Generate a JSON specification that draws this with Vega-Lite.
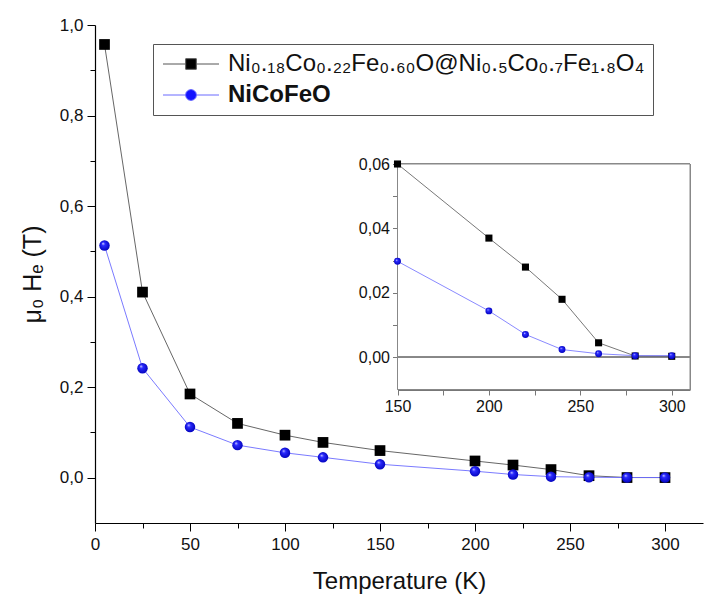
{
  "$schema": "https://vega.github.io/schema/vega-lite/v6.json",
  "width": 608,
  "height": 498,
  "autosize": {"type": "none"},
  "padding": {"left": 95, "top": 25, "right": 5, "bottom": 80},
  "background": "white",
  "config": {
    "view": {"stroke": null},
    "font": "Liberation Sans",
    "axis": {"grid": false, "labelFont": "Liberation Sans", "titleFont": "Liberation Sans", "labelColor": "#111", "titleColor": "#111", "titleFontWeight": "normal"}
  },
  "data": {
    "values": [
      {"T": 5, "H": 0.957, "s": "Ni₀.₁₈Co₀.₂₂Fe₀.₆₀O@Ni₀.₅Co₀.₇Fe₁.₈O₄"},
      {"T": 25, "H": 0.41, "s": "Ni₀.₁₈Co₀.₂₂Fe₀.₆₀O@Ni₀.₅Co₀.₇Fe₁.₈O₄"},
      {"T": 50, "H": 0.185, "s": "Ni₀.₁₈Co₀.₂₂Fe₀.₆₀O@Ni₀.₅Co₀.₇Fe₁.₈O₄"},
      {"T": 75, "H": 0.12, "s": "Ni₀.₁₈Co₀.₂₂Fe₀.₆₀O@Ni₀.₅Co₀.₇Fe₁.₈O₄"},
      {"T": 100, "H": 0.094, "s": "Ni₀.₁₈Co₀.₂₂Fe₀.₆₀O@Ni₀.₅Co₀.₇Fe₁.₈O₄"},
      {"T": 120, "H": 0.078, "s": "Ni₀.₁₈Co₀.₂₂Fe₀.₆₀O@Ni₀.₅Co₀.₇Fe₁.₈O₄"},
      {"T": 150, "H": 0.06, "s": "Ni₀.₁₈Co₀.₂₂Fe₀.₆₀O@Ni₀.₅Co₀.₇Fe₁.₈O₄"},
      {"T": 200, "H": 0.037, "s": "Ni₀.₁₈Co₀.₂₂Fe₀.₆₀O@Ni₀.₅Co₀.₇Fe₁.₈O₄"},
      {"T": 220, "H": 0.028, "s": "Ni₀.₁₈Co₀.₂₂Fe₀.₆₀O@Ni₀.₅Co₀.₇Fe₁.₈O₄"},
      {"T": 240, "H": 0.018, "s": "Ni₀.₁₈Co₀.₂₂Fe₀.₆₀O@Ni₀.₅Co₀.₇Fe₁.₈O₄"},
      {"T": 260, "H": 0.0045, "s": "Ni₀.₁₈Co₀.₂₂Fe₀.₆₀O@Ni₀.₅Co₀.₇Fe₁.₈O₄"},
      {"T": 280, "H": 0.0004, "s": "Ni₀.₁₈Co₀.₂₂Fe₀.₆₀O@Ni₀.₅Co₀.₇Fe₁.₈O₄"},
      {"T": 300, "H": 0.0003, "s": "Ni₀.₁₈Co₀.₂₂Fe₀.₆₀O@Ni₀.₅Co₀.₇Fe₁.₈O₄"},
      {"T": 5, "H": 0.513, "s": "NiCoFeO"},
      {"T": 25, "H": 0.242, "s": "NiCoFeO"},
      {"T": 50, "H": 0.112, "s": "NiCoFeO"},
      {"T": 75, "H": 0.072, "s": "NiCoFeO"},
      {"T": 100, "H": 0.055, "s": "NiCoFeO"},
      {"T": 120, "H": 0.045, "s": "NiCoFeO"},
      {"T": 150, "H": 0.0298, "s": "NiCoFeO"},
      {"T": 200, "H": 0.0144, "s": "NiCoFeO"},
      {"T": 220, "H": 0.0071, "s": "NiCoFeO"},
      {"T": 240, "H": 0.0024, "s": "NiCoFeO"},
      {"T": 260, "H": 0.0011, "s": "NiCoFeO"},
      {"T": 280, "H": 0.0005, "s": "NiCoFeO"},
      {"T": 300, "H": 0.0005, "s": "NiCoFeO"}
    ]
  },
  "layer": [
    {
      "encoding": {
        "x": {
          "field": "T", "type": "quantitative",
          "scale": {"domain": [0, 320], "nice": false, "zero": false},
          "axis": {
            "orient": "bottom",
            "title": "Temperature (K)",
            "values": [0, 25, 50, 75, 100, 125, 150, 175, 200, 225, 250, 275, 300],
            "labelExpr": "datum.value % 50 === 0 ? datum.label : ''",
            "format": "d",
            "domainColor": "#000", "domainWidth": 1.2,
            "tickColor": "#000", "tickWidth": 1,
            "tickSize": {"condition": {"test": "datum.value % 50 === 0", "value": 8}, "value": 5},
            "labelFontSize": 17, "labelPadding": 5, "labelFlush": false,
            "titleFontSize": 24, "titlePadding": 17
          }
        },
        "y": {
          "field": "H", "type": "quantitative",
          "scale": {"domain": [-0.1, 1.0], "nice": false, "zero": false},
          "axis": {
            "orient": "left",
            "title": "μ₀ Hₑ (T)",
            "values": [0, 0.1, 0.2, 0.3, 0.4, 0.5, 0.6, 0.7, 0.8, 0.9, 1.0],
            "labelExpr": "round(datum.value * 10) % 2 === 0 ? replace(format(datum.value, '.1f'), '.', ',') : ''",
            "domainColor": "#000", "domainWidth": 1.2,
            "tickColor": "#000", "tickWidth": 1,
            "tickSize": {"condition": {"test": "round(datum.value * 10) % 2 === 0", "value": 8}, "value": 5},
            "labelFontSize": 17, "labelPadding": 4, "labelFlush": false,
            "titleFontSize": 25, "titlePadding": 14
          }
        }
      },
      "layer": [
        {
          "mark": {"type": "line", "strokeWidth": 0.9},
          "encoding": {
            "color": {
              "field": "s", "type": "nominal",
              "scale": {"domain": ["Ni₀.₁₈Co₀.₂₂Fe₀.₆₀O@Ni₀.₅Co₀.₇Fe₁.₈O₄", "NiCoFeO"], "range": ["#555555", "#6b6bff"]},
              "legend": {
                "title": null,
                "orient": "none",
                "legendX": 58,
                "legendY": 19,
                "direction": "vertical",
                "padding": 8,
                "strokeColor": "#555",
                "fillColor": "white",
                "labelFont": "Liberation Sans",
                "labelFontSize": 24,
                "labelColor": "#111",
                "labelLimit": 600,
                "labelOffset": 25,
                "rowPadding": 7,
                "symbolSize": 400,
                "symbolOffset": 18,
                "symbolStrokeWidth": 1,
                "encode": {
                  "symbols": {
                    "update": {
                      "shape": {"signal": "datum.value === 'NiCoFeO' ? 'M-2.8,0H-0.55M0.55,0H2.8M0.55,0L0.476,0.275L0.275,0.476L0,0.55L-0.275,0.476L-0.476,0.275L-0.55,0L-0.476,-0.275L-0.275,-0.476L0,-0.55L0.275,-0.476L0.476,-0.275Z' : 'M-2.8,0H-0.53M0.53,0H2.8M-0.53,-0.53H0.53V0.53H-0.53Z'"},
                      "fill": {"signal": "datum.value === 'NiCoFeO' ? '#1414ff' : '#000000'"},
                      "stroke": {"signal": "datum.value === 'NiCoFeO' ? '#8a8aff' : '#444444'"},
                      "strokeWidth": {"value": 1},
                      "opacity": {"value": 1}
                    }
                  },
                  "labels": {
                    "update": {
                      "fontWeight": {"signal": "datum.value === 'NiCoFeO' ? 'bold' : 'normal'"}
                    }
                  }
                }
              }
            }
          }
        },
        {
          "transform": [{"filter": "datum.s !== 'NiCoFeO'"}],
          "mark": {"type": "point", "shape": "square", "filled": true, "size": 115, "color": "#000", "opacity": 1}
        },
        {
          "transform": [{"filter": "datum.s === 'NiCoFeO'"}],
          "mark": {
            "type": "point", "shape": "circle", "filled": true, "size": 110, "opacity": 1,
            "fill": {"gradient": "radial", "x1": 0.35, "y1": 0.3, "r1": 0, "x2": 0.5, "y2": 0.5, "r2": 0.55,
              "stops": [{"offset": 0, "color": "#dcdcff"}, {"offset": 0.3, "color": "#2a2aff"}, {"offset": 1, "color": "#0000b8"}]}
          }
        }
      ]
    },
    {
      "transform": [{"filter": "datum.T >= 150"}],
      "encoding": {
        "x": {
          "field": "T", "type": "quantitative",
          "scale": {"domain": [150, 310], "range": [302.5, 595], "nice": false, "zero": false},
          "axis": {
            "orient": "bottom",
            "offset": -133,
            "title": null,
            "values": [150, 175, 200, 225, 250, 275, 300],
            "labelExpr": "datum.value % 50 === 0 ? datum.label : ''",
            "format": "d",
            "domainColor": "#777", "domainWidth": 1,
            "tickColor": "#777", "tickWidth": 1,
            "tickSize": 5,
            "labelFontSize": 16, "labelPadding": 3, "labelFlush": false
          }
        },
        "y": {
          "field": "H", "type": "quantitative",
          "scale": {"domain": [-0.01, 0.06], "range": [364.5, 139], "nice": false, "zero": false},
          "axis": {
            "orient": "left",
            "offset": -302.5,
            "title": null,
            "values": [0, 0.01, 0.02, 0.03, 0.04, 0.05, 0.06],
            "labelExpr": "round(datum.value * 100) % 2 === 0 ? replace(format(datum.value, '.2f'), '.', ',') : ''",
            "domainColor": "#777", "domainWidth": 1,
            "tickColor": "#777", "tickWidth": 1,
            "tickSize": 5,
            "labelFontSize": 16, "labelPadding": 3, "labelFlush": false
          }
        }
      },
      "layer": [
        {
          "mark": {"type": "rect", "fill": "white", "stroke": "#888", "strokeWidth": 1},
          "encoding": {
            "x": {"datum": 150, "type": "quantitative"},
            "x2": {"datum": 310},
            "y": {"datum": -0.01, "type": "quantitative"},
            "y2": {"datum": 0.06}
          }
        },
        {
          "mark": {"type": "rule", "color": "#888", "strokeWidth": 1},
          "encoding": {
            "x": {"datum": 150, "type": "quantitative"},
            "x2": {"datum": 310},
            "y": {"datum": 0, "type": "quantitative"}
          }
        },
        {
          "mark": {"type": "line", "strokeWidth": 0.8},
          "encoding": {
            "detail": {"field": "s", "type": "nominal"},
            "color": {
              "field": "s", "type": "nominal",
              "scale": {"domain": ["Ni₀.₁₈Co₀.₂₂Fe₀.₆₀O@Ni₀.₅Co₀.₇Fe₁.₈O₄", "NiCoFeO"], "range": ["#555555", "#6b6bff"]},
              "legend": null
            }
          }
        },
        {
          "transform": [{"filter": "datum.s !== 'NiCoFeO'"}],
          "mark": {"type": "point", "shape": "square", "filled": true, "size": 50, "color": "#000", "opacity": 1}
        },
        {
          "transform": [{"filter": "datum.s === 'NiCoFeO'"}],
          "mark": {
            "type": "point", "shape": "circle", "filled": true, "size": 48, "opacity": 1,
            "fill": {"gradient": "radial", "x1": 0.35, "y1": 0.3, "r1": 0, "x2": 0.5, "y2": 0.5, "r2": 0.55,
              "stops": [{"offset": 0, "color": "#dcdcff"}, {"offset": 0.3, "color": "#2a2aff"}, {"offset": 1, "color": "#0000b8"}]}
          }
        }
      ]
    }
  ],
  "resolve": {
    "scale": {"x": "independent", "y": "independent", "color": "independent"},
    "axis": {"x": "independent", "y": "independent"},
    "legend": {"color": "independent"}
  }
}
